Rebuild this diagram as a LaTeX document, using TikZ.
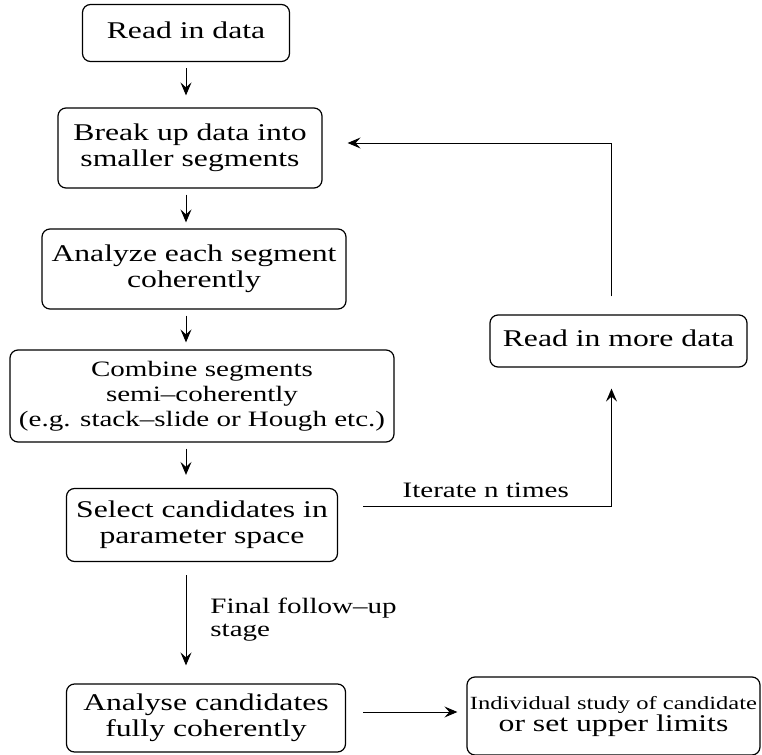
\documentclass[tikz,border=0pt]{standalone}
\usepackage{fontspec}
\setmainfont{Liberation Serif}
\usepackage{graphicx}
\usetikzlibrary{arrows.meta}

\newcommand{\wide}[1]{\scalebox{1.32}[1]{\fontsize{12}{13}\selectfont\begin{tabular}{@{}c@{}}#1\end{tabular}}}

\begin{document}
\begin{tikzpicture}[x=0.5pt,y=-0.5pt,
   box/.style={draw,rounded corners=4pt,line width=0.6pt,inner sep=0pt},
   arr/.style={-{Stealth[length=6.5pt,width=5.5pt,inset=2.5pt]},line width=0.5pt},
   lbl/.style={inner sep=0pt}]
            \useasboundingbox (0,0) rectangle (762,755);

            \node [box,minimum width=103.5pt,minimum height=28.5pt] (read) at (186,33)
               {\wide{Read in data}};
            \node [box,minimum width=132pt,minimum height=40pt] (break) at (190,148)
               {\wide{Break up data into\\smaller segments}};
            \node [box,minimum width=152pt,minimum height=40pt] (analyze) at (194,269)
               {\wide{Analyze each segment\\coherently}};
            \node [box,minimum width=192pt,minimum height=46pt] (combine) at (202,396)
               {\scalebox{1.32}[1]{\fontsize{11}{12.5}\selectfont\begin{tabular}{@{}c@{}}Combine segments\\semi–coherently\\(e.g. stack–slide or Hough etc.)\end{tabular}}};
            \node [box,minimum width=135.5pt,minimum height=36.5pt] (select) at (202,525)
               {\wide{Select candidates in\\parameter space}};
            \node [box,minimum width=139.5pt,minimum height=34pt] (analyse) at (206,718)
               {\wide{Analyse candidates\\fully coherently}};
            \node [box,minimum width=146.5pt,minimum height=39pt] (study) at (613.5,716)
               {\scalebox{1.32}[1]{\begin{tabular}{@{}c@{}}\fontsize{9.3}{10.5}\selectfont Individual study of candidate\\[-1pt]\fontsize{12}{13}\selectfont or set upper limits\end{tabular}}};
            \node [box,minimum width=128.5pt,minimum height=26pt] (more) at (618.5,341)
               {\raisebox{2pt}{\wide{Read in more data}}};

            \node [lbl,anchor=west] (final) at (210,620)
               {\scalebox{1.32}[1]{\fontsize{11}{11.5}\selectfont\begin{tabular}{@{}l@{}}Final follow–up\\stage\end{tabular}}};

            \draw [arr,shorten <=3pt,shorten >=6pt]
               (read.south) -- (read.south |- break.north);
            \draw [arr,shorten <=3pt,shorten >=3pt]
               (read.south |- break.south) -- (read.south |- analyze.north);
            \draw [arr,shorten <=3pt,shorten >=3.5pt]
               (read.south |- analyze.south) -- (read.south |- combine.north);
            \draw [arr,shorten <=3pt,shorten >=6.5pt]
               (read.south |- combine.south) -- (read.south |- select.north);
            \draw [arr,shorten <=6.5pt,shorten >=9pt]
               (read.south |- select.south) -- (read.south |- analyse.north);
            \draw [arr,shorten <=8.5pt,shorten >=4.5pt]
               ([yshift=3pt]analyse.east) -- ([yshift=3pt]analyse.east -| study.west);

            \draw [arr,shorten <=12.5pt,shorten >=10.5pt]
               ([yshift=9.5pt]select.east) -| ([xshift=-3.5pt]more.south)
               node [lbl,pos=0.27,above=4pt] (iter)
               {\scalebox{1.32}[1]{\fontsize{11}{12}\selectfont Iterate n times}};
            \draw [arr,shorten <=9pt,shorten >=12.5pt]
               ([xshift=-3.5pt]more.north) |- ([yshift=2.5pt]break.east);
         \end{tikzpicture}
\end{document}
